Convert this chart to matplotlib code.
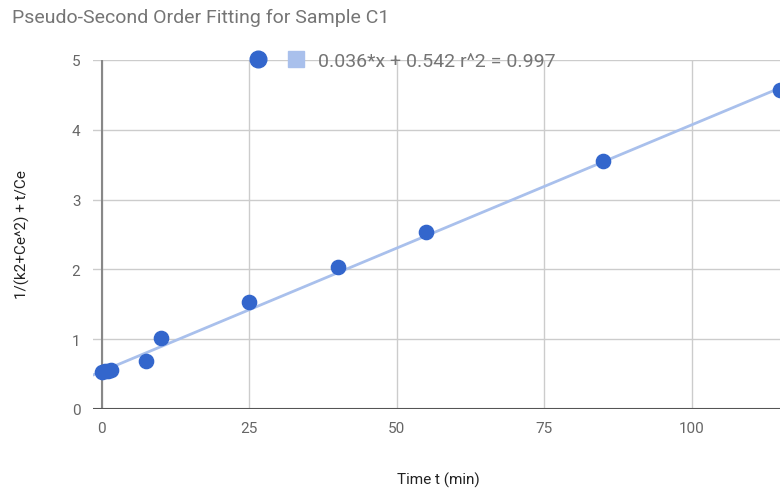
import numpy as np
import matplotlib.pyplot as plt
from matplotlib.lines import Line2D

plt.rcParams['font.family'] = ['Roboto', 'DejaVu Sans']

# data
time_min = [0, 0.5, 1, 1.5, 7.5, 10, 25, 40, 55, 85, 115]
y_vals = [0.53, 0.54, 0.55, 0.56, 0.69, 1.02, 1.53, 2.03, 2.54, 3.55, 4.57]
# trendline as drawn (label shows rounded values)
slope, intercept = 0.0353, 0.54
legend_text = '0.036*x + 0.542 r^2 = 0.997'

fig = plt.figure(figsize=(7.8, 4.89), dpi=100)
ax = fig.add_axes([93/780, 1 - 410/489, (780 - 93)/780, (410 - 61)/489])

xlim = (-1.5, 115)
xs = np.array(xlim)
ax.plot(xs, slope * xs + intercept, color='#a9c0ec', lw=2, zorder=2)
ax.scatter(time_min, y_vals, s=105, color='#3366cc', zorder=3, clip_on=False)

ax.set_xlim(*xlim)
ax.set_ylim(0, 5)
ax.set_xticks([0, 25, 50, 75, 100])
ax.set_yticks([0, 1, 2, 3, 4, 5])
ax.grid(True, color='#cccccc', lw=1)
ax.set_axisbelow(True)
for s in ax.spines.values():
    s.set_visible(False)
ax.axvline(0, color='#888888', lw=1.5, zorder=1)
ax.axhline(0, color='#555555', lw=1.5, zorder=1)
ax.tick_params(length=0, colors='#666666', labelsize=11, pad=9)

fig.text(12/780, 1 - 18/489, 'Pseudo-Second Order Fitting for Sample C1',
         fontsize=14, color='#757575', va='center', ha='left')
fig.text(438/780, 1 - 480/489, 'Time t (min)', fontsize=11, color='#222222',
         ha='center', va='center')
fig.text(22/780, 1 - 235/489, '1/(k2+Ce^2) + t/Ce', fontsize=11, color='#222222',
         ha='center', va='center', rotation=90)

handles = [Line2D([], [], ls='none', marker='o', ms=12, color='#3366cc'),
           Line2D([], [], ls='none', marker='s', ms=11, color='#a9c0ec')]
fig.legend(handles, ['', legend_text], loc='center left', ncol=2,
           bbox_to_anchor=(231/780, 1 - 62/489), frameon=False, fontsize=14,
           handletextpad=0.6, columnspacing=0.35, handlelength=1.0,
           labelcolor='#757575')

fig.savefig('out.png', dpi=100)
